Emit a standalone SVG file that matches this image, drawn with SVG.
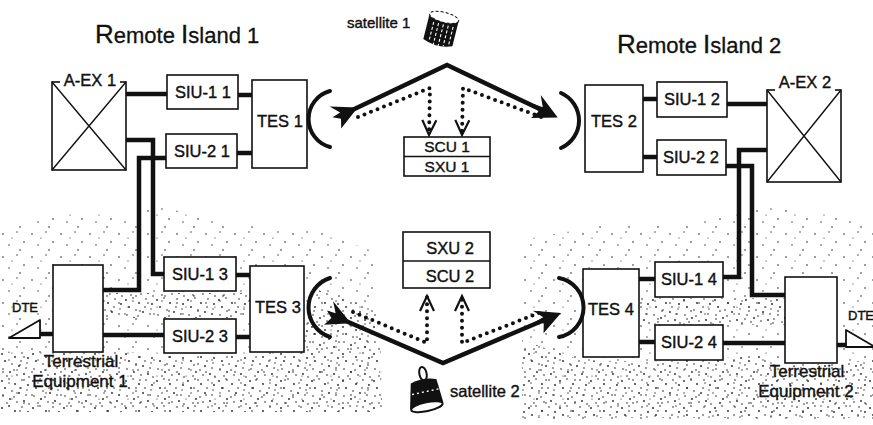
<svg xmlns="http://www.w3.org/2000/svg" width="873" height="425" viewBox="0 0 873 425">
  <defs>
    <style>
      .box { fill: #fff; stroke: #111; stroke-width: 1.6; }
      .thin { fill: none; stroke: #111; stroke-width: 1.4; }
      .wire { fill: none; stroke: #111; stroke-width: 4.5; stroke-linejoin: miter; }
      .beam { fill: none; stroke: #111; stroke-width: 4.5; }
      .dots { fill: none; stroke: #111; stroke-width: 4; stroke-linecap: round; stroke-dasharray: 0 7; }
      .dish { fill: none; stroke: #111; stroke-width: 4; stroke-linecap: round; }
      text { font-family: "Liberation Sans", Arial, sans-serif; fill: #111; stroke: #111; stroke-width: 0.4; }
      .lbl { font-size: 16.5px; }
      .c { text-anchor: middle; }
      .title { font-size: 22px; stroke-width: 0.3; }
      .cap { font-size: 26px; }
      .small { font-size: 13px; }
    </style>
    <pattern id="sandSparse" width="29" height="23" patternUnits="userSpaceOnUse">
      <g fill="#222">
        <circle cx="3" cy="4" r="0.8"/><circle cx="17" cy="2" r="0.7"/><circle cx="24" cy="12" r="0.8"/>
        <circle cx="9" cy="15" r="0.7"/><circle cx="20" cy="20" r="0.8"/><circle cx="12" cy="8" r="0.6"/>
      </g>
    </pattern>
    <pattern id="sandDense" width="31" height="27" patternUnits="userSpaceOnUse">
      <g fill="#222">
        <circle cx="2" cy="3" r="0.9"/><circle cx="9" cy="1" r="0.8"/><circle cx="15" cy="6" r="0.9"/>
        <circle cx="22" cy="2" r="0.8"/><circle cx="28" cy="7" r="0.9"/><circle cx="5" cy="10" r="0.9"/>
        <circle cx="12" cy="13" r="0.8"/><circle cx="19" cy="15" r="0.9"/><circle cx="26" cy="17" r="0.8"/>
        <circle cx="3" cy="18" r="0.8"/><circle cx="10" cy="21" r="0.9"/><circle cx="17" cy="24" r="0.8"/>
        <circle cx="24" cy="23" r="0.9"/><circle cx="29" cy="26" r="0.8"/><circle cx="7" cy="25" r="0.8"/>
        <circle cx="21" cy="10" r="0.8"/><circle cx="14" cy="19" r="0.8"/><circle cx="27" cy="12" r="0.7"/>
      </g>
    </pattern>
    <marker id="bolt" markerUnits="userSpaceOnUse" markerWidth="50" markerHeight="50" viewBox="-25 -25 50 50" refX="0" refY="0" orient="auto" overflow="visible">
      <path d="M13,0 L-12,-13 L-5,-3 L-14,-2 L-7,3 L-11,12 Z" fill="#111"/>
    </marker>
    <marker id="vee" markerUnits="userSpaceOnUse" markerWidth="30" markerHeight="30" viewBox="-15 -15 30 30" refX="0" refY="0" orient="auto" overflow="visible">
      <path d="M-15,-7 L0,0 L-15,7" fill="none" stroke="#111" stroke-width="2.2"/>
    </marker>
  </defs>

  <rect width="873" height="425" fill="#fff"/>

  <!-- stippled ground -->
  <g id="ground">
    <path d="M0,228 L60,212 L130,216 L150,205 L250,226 L320,232 L375,252 L382,415 L0,415 Z" fill="url(#sandSparse)"/>
    <path d="M0,352 L100,348 L160,356 L250,356 L300,342 L318,290 L380,310 L382,412 L0,412 Z" fill="url(#sandDense)"/>
    <path d="M104,293 L250,293 L250,318 L104,318 Z" fill="url(#sandDense)"/>
    <path d="M520,240 L600,226 L700,222 L770,205 L873,222 L873,420 L520,420 Z" fill="url(#sandSparse)"/>
    <path d="M522,340 L580,360 L650,362 L760,356 L785,366 L873,360 L873,418 L522,418 Z" fill="url(#sandDense)"/>
    <path d="M640,298 L785,298 L785,325 L640,325 Z" fill="url(#sandDense)"/>
  </g>

  <!-- titles -->
  <text class="title" x="95" y="43"><tspan class="cap">R</tspan>emote <tspan class="cap">I</tspan>sland  1</text>
  <text class="title" x="617" y="53"><tspan class="cap">R</tspan>emote <tspan class="cap">I</tspan>sland  2</text>

  <!-- connectors -->
  <g id="connectors">
    <!-- island 1 wiring -->
    <path class="wire" d="M126,94 L167,94"/>
    <path class="wire" d="M238,95 L252,95"/>
    <path class="wire" d="M237,153 L252,153"/>
    <path class="wire" d="M126,140 L153,140 L153,274 L164,274"/>
    <path class="wire" d="M166,158 L139,158 L139,290 L103,290"/>
    <path class="wire" d="M236,275 L250,275"/>
    <path class="wire" d="M236,337 L250,337"/>
    <path class="wire" d="M103,335 L164,335"/>
    <path class="wire" d="M40,334 L53,334"/>
    <!-- island 2 wiring -->
    <path class="wire" d="M643,99 L657,99"/>
    <path class="wire" d="M727,104 L767,104"/>
    <path class="wire" d="M643,157 L657,157"/>
    <path class="wire" d="M767,150 L739,150 L739,277 L723,277"/>
    <path class="wire" d="M726,166 L752,166 L752,295 L785,295"/>
    <path class="wire" d="M639,279 L655,279"/>
    <path class="wire" d="M639,342 L655,342"/>
    <path class="wire" d="M723,343 L785,343"/>
    <path class="wire" d="M837,345 L846,345"/>

    <!-- satellite 1 links -->
    <path class="beam" d="M346,113 L447,65 L546,112" marker-start="url(#bolt)" marker-end="url(#bolt)"/>
    <path class="dots" d="M358,117 L430,88 L429,135" marker-end="url(#vee)"/>
    <path class="dots" d="M541,117 L463,88 L462,135" marker-end="url(#vee)"/>

    <!-- satellite 2 links -->
    <path class="beam" d="M339,318 L443,363 L549,318" marker-start="url(#bolt)" marker-end="url(#bolt)"/>
    <path class="dots" d="M353,312 L427,343 L427,296" marker-end="url(#vee)"/>
    <path class="dots" d="M539,313 L462,343 L462,296" marker-end="url(#vee)"/>
  </g>

  <!-- A-EX 1 -->
  <g id="aex1">
    <rect class="box" x="52" y="82" width="74" height="88"/>
    <path class="thin" d="M52,82 L126,170 M126,82 L52,170"/>
    <rect x="60" y="74" width="60" height="14" fill="#fff"/>
    <text class="lbl c" x="90" y="86">A-EX 1</text>
  </g>

  <g id="siu11"><rect class="box" x="167" y="75" width="71" height="34"/><text class="lbl c" x="203" y="98">SIU-1 1</text></g>
  <g id="siu21"><rect class="box" x="166" y="134" width="71" height="34"/><text class="lbl c" x="202" y="157">SIU-2 1</text></g>
  <g id="tes1">
    <rect class="box" x="252" y="80" width="55" height="88"/>
    <text class="lbl" x="257" y="127">TES 1</text>
    <path class="dish" d="M330,91 A29,29 0 0 0 330,147"/>
  </g>

  <!-- satellite 1 -->
  <g id="satellite1">
    <g transform="translate(441,30) rotate(14)">
      <path d="M-15,-12 L15,-12 L15,13 Q0,19 -15,13 Z" fill="#111"/>
      <ellipse cx="0" cy="-13" rx="15" ry="5" fill="#fff" stroke="#111" stroke-width="1" stroke-dasharray="3 2"/>
      <path d="M-9,-6 V14 M-4,-6 V16 M1,-6 V16 M6,-6 V15 M11,-6 V13" stroke="#fff" stroke-width="1.1" stroke-dasharray="3 2"/>
    </g>
    <text x="347" y="28" style="font-size:15px">satellite 1</text>
  </g>

  <g id="scu1">
    <rect class="box" x="404" y="137" width="86" height="39"/>
    <path class="thin" d="M404,156.5 L490,156.5"/>
    <text class="lbl c" x="447" y="152" style="font-size:15.5px">SCU 1</text>
    <text class="lbl c" x="447" y="172" style="font-size:15.5px">SXU 1</text>
  </g>

  <!-- island 2 -->
  <g id="tes2">
    <rect class="box" x="585" y="85" width="58" height="87"/>
    <text class="lbl" x="591" y="127">TES 2</text>
    <path class="dish" d="M561,93 A30,30 0 0 1 561,148"/>
  </g>
  <g id="siu12"><rect class="box" x="657" y="82" width="70" height="35"/><text class="lbl c" x="692" y="105">SIU-1 2</text></g>
  <g id="siu22"><rect class="box" x="657" y="140" width="69" height="35"/><text class="lbl c" x="691" y="163">SIU-2 2</text></g>
  <g id="aex2">
    <rect class="box" x="767" y="90" width="74" height="92"/>
    <path class="thin" d="M767,90 L841,182 M841,90 L767,182"/>
    <rect x="775" y="74" width="60" height="17" fill="#fff"/>
    <text class="lbl c" x="805" y="88">A-EX 2</text>
  </g>

  <!-- island 1, lower -->
  <g id="dte1">
    <path d="M9,338 L40,320 L40,338 Z" fill="#fff" stroke="#111" stroke-width="1.8" stroke-linejoin="round"/>
    <text class="small" x="12" y="312">DTE</text>
  </g>
  <g id="te1">
    <rect class="box" x="53" y="265" width="50" height="87"/>
    <text class="c" x="81" y="367" style="font-size:17px">Terrestrial</text>
    <text class="c" x="80" y="387" style="font-size:17px">Equipment 1</text>
  </g>
  <g id="siu13"><rect class="box" x="164" y="257" width="72" height="34"/><text class="lbl c" x="200" y="280">SIU-1 3</text></g>
  <g id="siu23"><rect class="box" x="164" y="319" width="72" height="34"/><text class="lbl c" x="200" y="342">SIU-2 3</text></g>
  <g id="tes3">
    <rect class="box" x="250" y="266" width="54" height="86"/>
    <text class="lbl" x="255" y="313">TES 3</text>
    <path class="dish" d="M330,278 A31,31 0 0 0 330,337"/>
  </g>

  <g id="sxu2">
    <rect class="box" x="403" y="232" width="87" height="56"/>
    <path class="thin" d="M403,261 L490,261"/>
    <text class="lbl c" x="450" y="254">SXU 2</text>
    <text class="lbl c" x="450" y="282">SCU 2</text>
  </g>

  <!-- satellite 2 -->
  <g id="satellite2">
    <g transform="translate(424,393) rotate(-12)">
      <ellipse cx="3" cy="-19" rx="3.6" ry="7" fill="#fff" stroke="#111" stroke-width="2"/>
      <path d="M-11,-12 Q3,-16 15,-11 L17,13 Q0,19 -17,13 Z" fill="#111"/>
      <path d="M-12,-1 L15,-1" stroke="#fff" stroke-width="1.4" stroke-dasharray="2 3"/>
      <ellipse cx="0" cy="14" rx="16" ry="4.5" fill="#fff" stroke="#111" stroke-width="2"/>
    </g>
    <text x="450" y="397" style="font-size:16.5px">satellite 2</text>
  </g>

  <!-- island 2, lower -->
  <g id="tes4">
    <rect class="box" x="583" y="269" width="56" height="88"/>
    <text class="lbl" x="588" y="315">TES 4</text>
    <path class="dish" d="M559,278 A30,30 0 0 1 559,337"/>
  </g>
  <g id="siu14"><rect class="box" x="655" y="262" width="68" height="35"/><text class="lbl c" x="689" y="285">SIU-1 4</text></g>
  <g id="siu24"><rect class="box" x="655" y="325" width="68" height="35"/><text class="lbl c" x="689" y="348">SIU-2 4</text></g>
  <g id="te2">
    <rect class="box" x="785" y="277" width="52" height="86"/>
    <text class="c" x="807" y="377" style="font-size:17px">Terrestrial</text>
    <text class="c" x="806" y="397" style="font-size:17px">Equipment 2</text>
  </g>
  <g id="dte2">
    <path d="M846,330 L846,347 L875,347 Z" fill="#fff" stroke="#111" stroke-width="1.8" stroke-linejoin="round"/>
    <text class="small" x="848" y="320">DTE</text>
  </g>
</svg>
